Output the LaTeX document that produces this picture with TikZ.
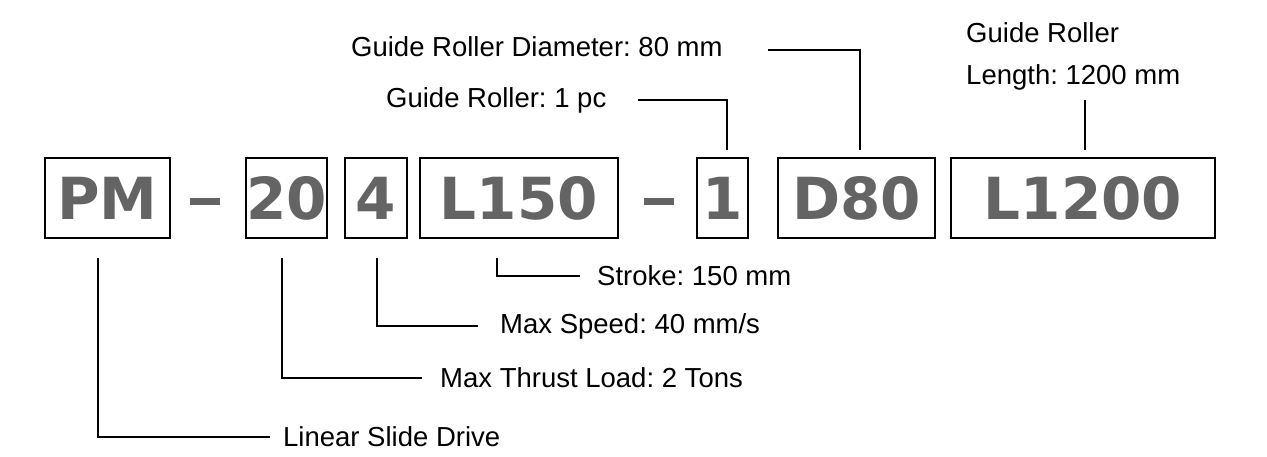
\documentclass[tikz,border=0pt]{standalone}
\usepackage{fontspec}
\setmainfont{Liberation Sans}
\newfontfamily\codefont{DejaVu Sans}
\definecolor{codegray}{RGB}{100, 100, 100}
\usetikzlibrary{positioning}
\frenchspacing

\begin{document}
\begin{tikzpicture}[x=1pt, y=-1pt]
[every node/.style={inner sep=0pt}]
\useasboundingbox (0,0) rectangle (1267,456);
\tikzset{codebox/.style={draw=black, line width=1.4pt, minimum height=80pt, inner sep=0pt, font=\codefont\bfseries\fontsize{58}{58}\selectfont, text=codegray},
dashbar/.style={fill=codegray, minimum width=30pt, minimum height=7pt, inner sep=0pt},
lbl/.style={anchor=west, inner sep=0pt, font=\fontsize{27.5}{42}\selectfont},
lead/.style={line width=1.4pt, color=black}}
\node (pm) [codebox, minimum width=125pt] at (107.5, 198) {PM};
\node (d1) [dashbar] at (205, 201) {};
\node (t20) [codebox, minimum width=77pt] at (286.5, 198) {20};
\node (t4) [codebox, minimum width=62pt] at (376, 198) {4};
\node (l150) [codebox, minimum width=198pt] at (519, 198) {L150};
\node (d2) [dashbar] at (659, 201) {};
\node (one) [codebox, minimum width=51pt] at (722.5, 198) {1};
\node (d80) [codebox, minimum width=157pt] at (856.5, 198) {D80};
\node (l1200) [codebox, minimum width=264pt] at (1083, 198) {L1200};
\node (lsd) [lbl] at (283, 437) {Linear Slide Drive};
\node (mtl) [lbl] at (440, 378) {Max Thrust Load: 2 Tons};
\node (msp) [lbl] at (500, 326) {Max Speed: 40 mm/s};
\node (stk) [lbl] at (597, 276) {Stroke: 150 mm};
\node (grp) [lbl] at (386, 100) {Guide Roller: 1 pc};
\node (grd) [lbl] at (351, 47) {Guide Roller Diameter: 80 mm};
\node (grl) [lbl, align=left] at (966, 56) {Guide Roller\\Length: 1200 mm};
\draw [lead] (98, 258) |- (270, 437);
\draw [lead] (282, 258) |- (422, 378);
\draw [lead] (377, 258) |- (478, 326);
\draw [lead] (497, 258) |- (580, 276);
\draw [lead] (638, 100) -| (727, 150);
\draw [lead] (768, 50) -| (860, 150);
\draw [lead] (1085, 100) -- (1085, 150);
\end{tikzpicture}
\end{document}
